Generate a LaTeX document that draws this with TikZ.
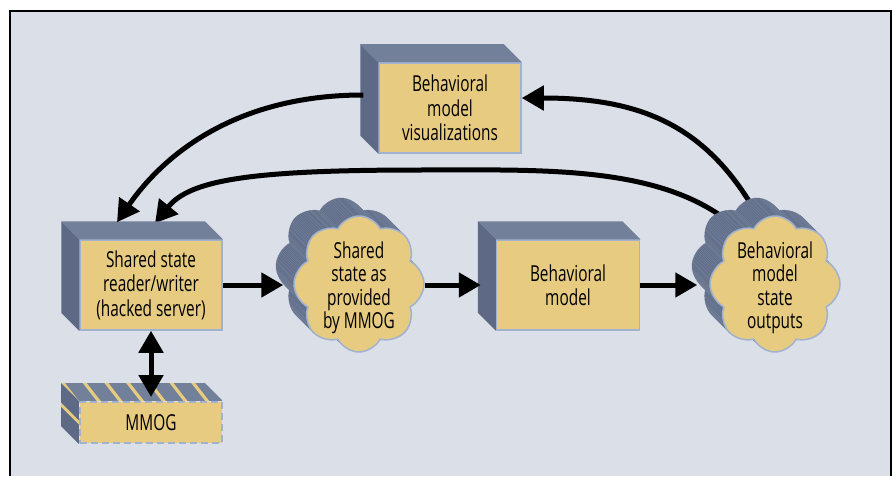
\documentclass[tikz,border=0pt]{standalone}
\usepackage{fontspec}
\setmainfont{Open Sans}[FakeStretch=0.70]
\usetikzlibrary{arrows.meta,shapes.symbols,calc}
\definecolor{panel}{HTML}{DADFE8}
\definecolor{facetan}{HTML}{E6CB80}
\definecolor{faceedge}{HTML}{A0B2D0}
\definecolor{slatetop}{HTML}{73809A}
\definecolor{slateside}{HTML}{5E6A85}
\pgfdeclarelayer{paper}
\pgfdeclarelayer{connectors}
\pgfsetlayers{paper,connectors,main}
\begin{document}
\begin{tikzpicture}[x=1pt,y=-1pt,
    box/.style={draw=faceedge,line width=1.5pt,fill=facetan,minimum width=142,minimum height=90,
        inner sep=0pt,align=center,font=\fontsize{22}{24.5}\selectfont},
    puff/.style={cloud,cloud puffs=8,cloud puff arc=125,cloud ignores aspect,minimum width=130,minimum height=136,
        inner xsep=0pt,inner ysep=-30pt,text height=89pt,text depth=0pt,align=center,font=\fontsize{22}{23.5}\selectfont},
    arr/.style={line width=5pt,-{Triangle[length=22pt,width=24pt]}},
    dbl/.style={line width=5pt,{Triangle[length=22pt,width=24pt]}-{Triangle[length=22pt,width=24pt]}}]
    \useasboundingbox (0,0) rectangle (893,476);
    %% panel
    \begin{pgfonlayer}{paper}
        \fill[white] (0,0) rectangle (893,476);
        \fill[panel] (10,11) rectangle (891,476);
        \draw[line width=1.5pt] (10,476) -- (10,11) -- (891,11) -- (891,476);
    \end{pgfonlayer}
    %% boxes
    \node[box] (viz) at (450,108) {Behavioral\\model\\visualizations};
    \node[box] (rw) at (151,285) {Shared state\\reader/writer\\(hacked server)};
    \node[box,minimum width=143] (bm) at (568,285) {Behavioral\\model};
    \foreach \b in {rw,viz,bm}{
        \fill[slatetop] (\b.north west) -- ++(-18,-18) -- ($(\b.north east)+(-18,-18)$) -- (\b.north east) -- cycle;
        \fill[slateside] (\b.north west) -- ++(-18,-18) -- ($(\b.south west)+(-18,-18)$) -- (\b.south west) -- cycle;
    }
    %% game server
    \node[box,minimum height=41,dash pattern=on 7pt off 4pt,line width=2pt] (mm) at (151,422.5) {MMOG};
    \begin{scope}
        \clip (mm.north west) -- ++(-18,-18) -- ($(mm.north east)+(-18,-18)$) -- (mm.north east) -- cycle;
        \fill[slatetop] ($(mm.north west)+(-20,-20)$) rectangle (mm.north east);
        \foreach \i in {0,...,7}
            \fill[facetan] ($(mm.north west)+(-18+21.7*\i,-18)$) -- ++(4,0) -- ++(14,18) -- ++(-4,0) -- cycle;
    \end{scope}
    \begin{scope}
        \clip (mm.north west) -- ++(-18,-18) -- ($(mm.south west)+(-18,-18)$) -- (mm.south west) -- cycle;
        \fill[slateside] ($(mm.north west)+(-20,-20)$) rectangle (mm.south west);
        \fill[facetan] ($(mm.west)+(-18,-20)$) -- ($(mm.west)+(0,-2)$) -- ($(mm.west)+(0,2)$) -- ($(mm.west)+(-18,-16)$) -- cycle;
    \end{scope}
    %% clouds
    \foreach \d in {18,...,1}
        \node[puff,fill=slateside,draw=slatetop,line width=0.5pt] at (359-\d,284-\d) {};
    \node[puff,fill=facetan,draw=faceedge,line width=1.5pt] (c1) at (359,284) {Shared\\state as\\provided\\by MMOG};
    \foreach \d in {18,...,1}
        \node[puff,fill=slateside,draw=slatetop,line width=0.5pt] at (775-\d,284-\d) {};
    \node[puff,fill=facetan,draw=faceedge,line width=1.5pt] (c2) at (775,284) {Behavioral\\model\\state\\outputs};
    %% flow
    \draw[arr] (rw.east) -- ([xshift=-10]c1.west |- rw.east);
    \draw[arr] (c1.east |- bm.west) -- ([xshift=-15]bm.west);
    \draw[arr] (bm.east) -- ([xshift=-12]c2.west |- bm.east);
    \draw[dbl] (rw.south) -- ([yshift=4]mm.north);
    \draw[arr] ([shift={(-15,-13)}]viz.west) .. controls (230,95) and (160,160) .. ([shift={(-34,-17)}]rw.north);
    \begin{pgfonlayer}{connectors}
        \draw[arr] ([shift={(-20,-73)}]c2.center) .. controls (705,125) and (640,98) .. ([yshift=10]viz.east);
        \draw[arr] ([shift={(-47,-63)}]c2.center) .. controls (655,165) and (540,170) .. (420,170)
            .. controls (250,170) and (190,180) .. ([shift={(4,-16)}]rw.north);
    \end{pgfonlayer}
\end{tikzpicture}
\end{document}
